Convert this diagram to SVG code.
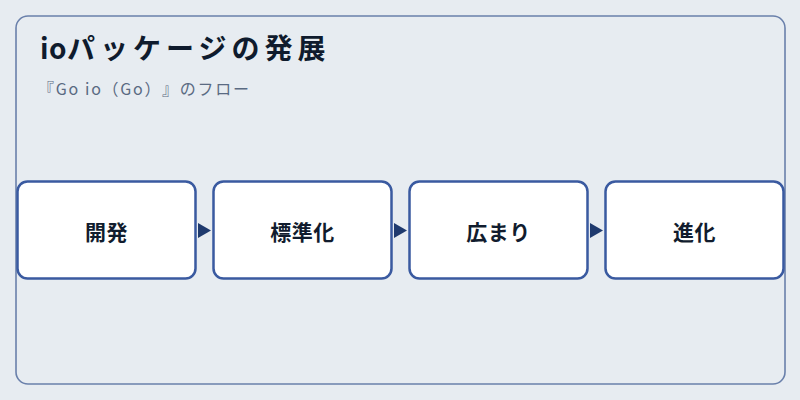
<svg xmlns="http://www.w3.org/2000/svg" width="800" height="400" viewBox="0 0 800 400">
<defs>
<style>
.frame{fill:#e7ecf1;stroke:#6a80ab;stroke-width:1.6}
.node rect{fill:#ffffff;stroke:#3a5aa0;stroke-width:2.5}
.node text{font-family:"Noto Sans CJK JP","Noto Sans",sans-serif;font-size:21px;font-weight:bold;fill:#111c2e;text-anchor:middle;letter-spacing:0.5px}
.title{font-family:"Noto Sans CJK JP","Noto Sans",sans-serif;font-size:28px;font-weight:bold;fill:#0f1b2d;letter-spacing:5px}
.sub{font-family:"Noto Sans CJK JP","Noto Sans",sans-serif;font-size:16px;fill:#5a6a82;letter-spacing:1.7px;text-spacing-trim:space-all}
.arrow{fill:#1f3a6e}
</style>
</defs>
<rect width="800" height="400" fill="#e7ecf1"/>
<rect class="frame" x="16" y="16" width="769" height="368" rx="12"/>
<text class="title" x="40" y="59"><tspan style="letter-spacing:0.5px">io</tspan>パッケージの発展</text>
<text class="sub" x="38" y="95">『Go io（Go）』のフロー</text>
<g id="connectors">
<polygon class="arrow" points="198,223 211,230.5 198,238"/>
<polygon class="arrow" points="394,223 407,230.5 394,238"/>
<polygon class="arrow" points="590,223 603,230.5 590,238"/>
</g>
<g id="node1" class="node"><rect x="17.5" y="181.5" width="178" height="97" rx="10"/><text x="106.5" y="240">開発</text></g>
<g id="node2" class="node"><rect x="213.5" y="181.5" width="178" height="97" rx="10"/><text x="302.5" y="240">標準化</text></g>
<g id="node3" class="node"><rect x="409.5" y="181.5" width="178" height="97" rx="10"/><text x="498.5" y="240">広まり</text></g>
<g id="node4" class="node"><rect x="605.5" y="181.5" width="178" height="97" rx="10"/><text x="694.5" y="240">進化</text></g>
</svg>
